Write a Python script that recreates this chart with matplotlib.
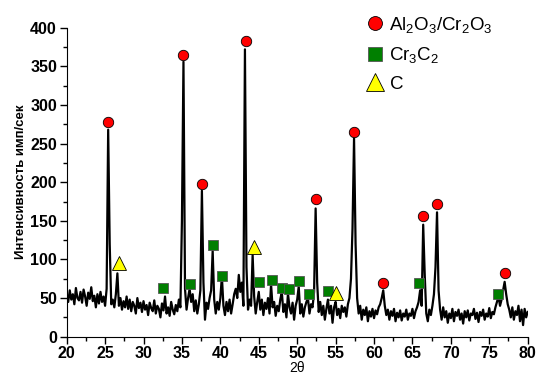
import numpy as np
import matplotlib
matplotlib.use("Agg")
from matplotlib import pyplot as plt
from matplotlib.ticker import MultipleLocator
from matplotlib.lines import Line2D

# XRD trace, intensity read every 0.2 deg from 20 to 80 (2theta)
counts = [
    52, 45, 60, 48, 55, 42, 63, 50, 47, 58,      # 20.0 - 21.8
    44, 61, 52, 40, 57, 49, 64, 46, 53, 38,      # 22.0 - 23.8
    55, 43, 58, 45, 52, 40, 62, 268, 120, 42,    # 24.0 - 25.8
    48, 38, 55, 82, 40, 50, 35, 46, 38, 52,      # 26.0 - 27.8
    36, 48, 33, 45, 40, 30, 50, 37, 44, 32,      # 28.0 - 29.8
    46, 35, 41, 28, 44, 37, 33, 47, 30, 40,      # 30.0 - 31.8
    36, 25, 43, 34, 52, 30, 38, 27, 45, 35,      # 32.0 - 33.8
    29, 41, 33, 48, 38, 150, 356, 62, 35, 50,    # 34.0 - 35.8
    62, 45, 55, 33, 47, 30, 42, 60, 189, 70,     # 36.0 - 37.8
    22, 44, 36, 50, 60, 111, 48, 30, 45, 35,     # 38.0 - 39.8
    50, 78, 40, 28, 45, 33, 48, 30, 42, 55,      # 40.0 - 41.8
    62, 50, 80, 58, 70, 40, 372, 90, 35, 48,     # 42.0 - 43.8
    40, 106, 52, 30, 45, 58, 35, 48, 28, 44,     # 44.0 - 45.8
    36, 50, 30, 68, 38, 45, 27, 40, 33, 48,      # 46.0 - 47.8
    58, 32, 42, 25, 56, 38, 30, 44, 22, 40,      # 48.0 - 49.8
    48, 65, 30, 42, 26, 38, 45, 50, 30, 42,      # 50.0 - 51.8
    38, 58, 166, 70, 32, 45, 28, 40, 22, 36,     # 52.0 - 53.8
    48, 30, 40, 18, 38, 45, 28, 36, 24, 40,      # 54.0 - 55.8
    32, 38, 26, 42, 50, 75, 140, 257, 120, 50,   # 56.0 - 57.8
    30, 40, 22, 35, 28, 38, 20, 33, 26, 36,      # 58.0 - 59.8
    24, 34, 29, 38, 42, 50, 60, 40, 28, 35,      # 60.0 - 61.8
    22, 33, 27, 36, 20, 31, 25, 34, 21, 30,      # 62.0 - 63.8
    26, 35, 22, 30, 27, 36, 24, 33, 38, 45,      # 64.0 - 65.8
    60, 40, 145, 80, 30, 20, 35, 28, 40, 55,     # 66.0 - 67.8
    90, 161, 60, 35, 22, 38, 25, 33, 18, 30,     # 68.0 - 69.8
    24, 36, 20, 32, 27, 35, 22, 30, 17, 33,      # 70.0 - 71.8
    25, 34, 21, 30, 28, 36, 23, 31, 19, 32,      # 72.0 - 73.8
    27, 35, 22, 30, 26, 37, 24, 32, 29, 38,      # 74.0 - 75.8
    45, 52, 40, 48, 60, 71, 55, 42, 35, 25,      # 76.0 - 77.8
    38, 22, 33, 28, 40, 20, 35, 15, 36, 25,      # 78.0 - 79.8
    32,                                          # 80.0
]
two_theta = np.linspace(20, 80, len(counts))

# phase markers
al2o3_x = [25.4, 35.1, 37.6, 43.3, 52.5, 57.4, 61.2, 66.4, 68.2, 77.1]
al2o3_y = [278, 365, 198, 383, 178, 265, 70, 156, 172, 82]

cr3c2_x = [32.6, 36.1, 39.1, 40.2, 45.0, 46.7, 48.0, 48.9, 50.3, 51.5, 54.0, 65.9, 76.2]
cr3c2_y = [63, 68, 119, 79, 71, 74, 63, 62, 72, 55, 59, 70, 55]

c_x = [26.8, 44.4, 55.0]
c_y = [95, 116, 56]

plt.rcParams['font.family'] = ['Liberation Sans', 'DejaVu Sans']
plt.rcParams['font.weight'] = 'bold'
plt.rcParams['mathtext.fontset'] = 'custom'
plt.rcParams['mathtext.rm'] = 'Liberation Sans:normal'

fig = plt.figure(figsize=(5.36, 3.78), dpi=100)
ax = fig.add_axes([0.1244, 0.1093, 0.8601, 0.8174])

ax.plot(two_theta, counts, color='k', lw=1.6, zorder=2)
ax.plot(al2o3_x, al2o3_y, 'o', ms=7.5, mfc='#ff0000', mec='k', mew=0.6, zorder=3)
ax.plot(cr3c2_x, cr3c2_y, 's', ms=7, mfc='#007f00', mec='#555555', mew=0.6, zorder=3)
ax.plot(c_x, c_y, '^', ms=10, mfc='#ffff00', mec='k', mew=0.6, zorder=3)

ax.set_xlim(20, 80)
ax.set_ylim(0, 400)
ax.xaxis.set_major_locator(MultipleLocator(5))
ax.xaxis.set_minor_locator(MultipleLocator(2.5))
ax.yaxis.set_major_locator(MultipleLocator(50))
ax.yaxis.set_minor_locator(MultipleLocator(25))
ax.tick_params(which='major', direction='out', length=5, width=1, labelsize=11.5, pad=2)
ax.tick_params(which='minor', direction='out', length=3, width=1)
ax.spines['top'].set_visible(False)
ax.spines['right'].set_visible(False)

ax.set_xlabel('2θ', fontsize=10, fontweight='normal', labelpad=0)
ax.set_ylabel('Интенсивность имп/сек', fontsize=9.5, fontweight='bold', labelpad=2)

handles = [
    Line2D([], [], ls='none', marker='o', ms=10, mfc='#ff0000', mec='k', mew=0.6),
    Line2D([], [], ls='none', marker='s', ms=9.5, mfc='#007f00', mec='#555555', mew=0.6),
    Line2D([], [], ls='none', marker='^', ms=13, mfc='#ffff00', mec='k', mew=0.6),
]
labels = [r'$\mathrm{Al_2O_3/Cr_2O_3}$', r'$\mathrm{Cr_3C_2}$', r'$\mathrm{C}$']
fig.legend(handles, labels, loc='upper left', bbox_to_anchor=(0.66, 0.995),
           frameon=False, fontsize=13.5, handlelength=0.9, handletextpad=0.3,
           labelspacing=0.55, borderpad=0.2)

fig.savefig('out.png', dpi=100)
